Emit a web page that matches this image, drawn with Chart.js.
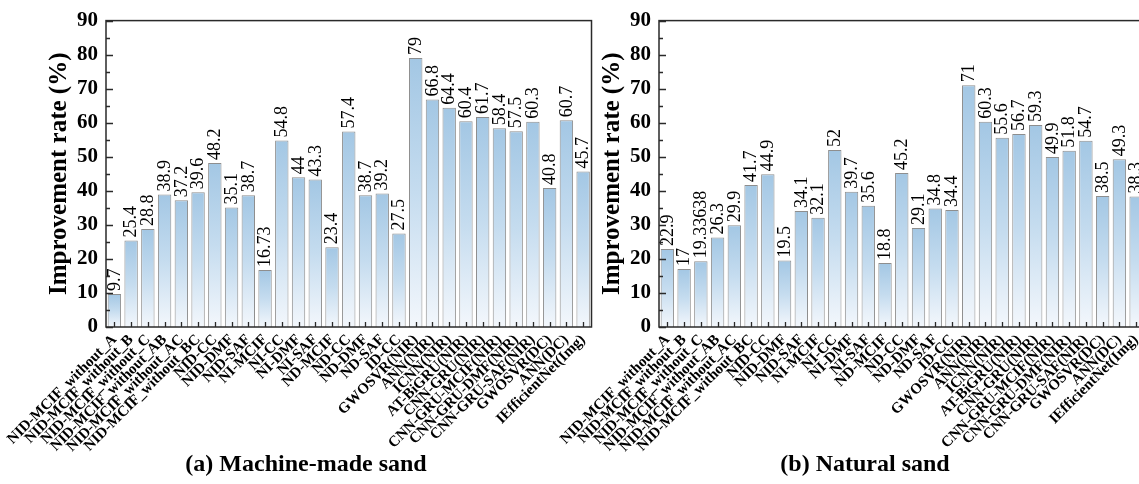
<!DOCTYPE html>
<html><head><meta charset="utf-8">
<script src="https://cdn.jsdelivr.net/npm/chart.js@4"></script>
<style>
html,body{margin:0;padding:0;background:#fff;width:1139px;height:484px;overflow:hidden;position:relative}
.wrap{position:absolute;top:0;width:600px;height:484px}
#wa{left:0}
#wb{left:553px}
canvas{display:block}
</style></head><body>
<div class="wrap" id="wa"><canvas id="ca" width="600" height="484"></canvas></div>
<div class="wrap" id="wb"><canvas id="cb" width="600" height="484"></canvas></div>
<script>
const categories = [
  'NID-MCIF_without_A','NID-MCIF_without_B','NID-MCIF_without_C','NID-MCIF_without_AB',
  'NID-MCIF_without_AC','NID-MCIF_without_BC','NID-CC','NID-DMF','NID-SAF','NI-MCIF',
  'NI-CC','NI-DMF','NI-SAF','ND-MCIF','ND-CC','ND-DMF','ND-SAF','ID-CC',
  'GWOSVR(NIR)','ANN(NIR)','ICNN(NIR)','AT-BiGRU(NIR)','CNN-GRU(NIR)','CNN-GRU-MCIF(NIR)',
  'CNN-GRU-DMF(NIR)','CNN-GRU-SAF(NIR)','GWOSVR(DC)','ANN(DC)','IEfficientNet(Img)'
];
const machineMadeSand = [9.7,25.4,28.8,38.9,37.2,39.6,48.2,35.1,38.7,16.73,54.8,44,43.3,23.4,57.4,38.7,39.2,27.5,79,66.8,64.4,60.4,61.7,58.4,57.5,60.3,40.8,60.7,45.7];
const naturalSand = [22.9,17,19.33638,26.3,29.9,41.7,44.9,19.5,34.1,32.1,52,39.7,35.6,18.8,45.2,29.1,34.8,34.4,71,60.3,55.6,56.7,59.3,49.9,51.8,54.7,38.5,49.3,38.3];
const yTickValues = [0,10,20,30,40,50,60,70,80,90];
const yTitle = 'Improvement rate (%)';
const panelTitles = ['(a) Machine-made sand','(b) Natural sand'];

const SERIF = '"Liberation Serif","Times New Roman",serif';

function barFill(c){
  const chart = c.chart;
  if(!chart.chartArea || c.raw === undefined) return '#c4dcef';
  const ys = chart.scales.y;
  const yTop = ys.getPixelForValue(c.raw), yBot = ys.getPixelForValue(0);
  const g = chart.ctx.createLinearGradient(0, yTop, 0, yBot);
  g.addColorStop(0, '#a3c7e4');
  g.addColorStop(0.5, '#c5dcef');
  g.addColorStop(1, '#f3f7fc');
  return g;
}

const decor = {
  id: 'decor',
  afterDatasetsDraw(chart, args, opts){
    const ctx = chart.ctx;
    const {left, right, top, bottom} = chart.chartArea;
    const ys = chart.scales.y, xs = chart.scales.x;
    ctx.save();
    const meta = chart.getDatasetMeta(0);
    const data = chart.data.datasets[0].data;
    ctx.fillStyle = '#000';
    ctx.font = '18px ' + SERIF;
    ctx.textAlign = 'left';
    ctx.textBaseline = 'middle';
    meta.data.forEach((bar, i) => {
      ctx.save();
      ctx.translate(bar.x + 0.5, bar.y - 3);
      ctx.rotate(-Math.PI/2);
      ctx.fillText(String(data[i]), 0, 0);
      ctx.restore();
    });
    ctx.strokeStyle = '#2a2a2a';
    ctx.lineWidth = 1.5;
    ctx.strokeRect(left, top, right - left, bottom - top);
    ctx.lineWidth = 1.3;
    ctx.beginPath();
    for (let k = 0; k < yTickValues.length; k++){
      const v = yTickValues[k];
      const py = Math.round(ys.getPixelForValue(v)) + 0.5;
      ctx.moveTo(left, py); ctx.lineTo(left + 7, py);
      if (k < yTickValues.length - 1){
        const pm = Math.round(ys.getPixelForValue((v + yTickValues[k+1]) / 2)) + 0.5;
        ctx.moveTo(left, pm); ctx.lineTo(left + 4, pm);
      }
    }
    categories.forEach((c, i) => {
      const px = Math.round(xs.getPixelForValue(i)) + 0.5;
      ctx.moveTo(px, bottom); ctx.lineTo(px, bottom - 5);
    });
    ctx.stroke();
    ctx.restore();
  },
  afterDraw(chart, args, opts){
    const ctx = chart.ctx;
    ctx.save();
    ctx.fillStyle = '#000';
    ctx.font = 'bold 24px ' + SERIF;
    ctx.textAlign = 'center';
    ctx.textBaseline = 'middle';
    ctx.fillText(opts.text, opts.x, 465);
    ctx.restore();
  }
};

function makeChart(id, values, title, titleX){
  return new Chart(document.getElementById(id), {
    type: 'bar',
    data: {
      labels: categories,
      datasets: [{
        data: values,
        backgroundColor: barFill,
        borderColor: '#8e8e8e',
        borderWidth: 1,
        barPercentage: 0.8,
        categoryPercentage: 1.0
      }]
    },
    options: {
      responsive: false,
      animation: false,
      devicePixelRatio: 1,
      layout: { padding: { left: 0, right: 8, top: 17, bottom: 0 } },
      plugins: {
        legend: { display: false },
        tooltip: { enabled: false },
        decor: { text: title, x: titleX }
      },
      scales: {
        x: {
          type: 'category',
          offset: true,
          grid: { display: false, drawTicks: false },
          border: { display: false },
          ticks: {
            autoSkip: false, maxRotation: 45, minRotation: 45,
            padding: 4, color: '#000',
            font: { family: SERIF, size: 15, weight: 'bold' }
          },
          afterFit: s => { s.height = 157; }
        },
        y: {
          min: 0, max: 90,
          grid: { display: false, drawTicks: false },
          border: { display: false },
          afterBuildTicks: s => { s.ticks = yTickValues.map(v => ({ value: v })); },
          ticks: {
            padding: 8, color: '#000',
            font: { family: SERIF, size: 21, weight: 'bold' }
          },
          title: {
            display: true, text: yTitle, color: '#000',
            font: { family: SERIF, size: 25, weight: 'bold' },
            padding: { top: 45, bottom: 0 }
          },
          afterFit: s => { s.width = 106; }
        }
      }
    },
    plugins: [decor]
  });
}

makeChart('ca', machineMadeSand, panelTitles[0], 306);
makeChart('cb', naturalSand, panelTitles[1], 312);
</script>
</body></html>
